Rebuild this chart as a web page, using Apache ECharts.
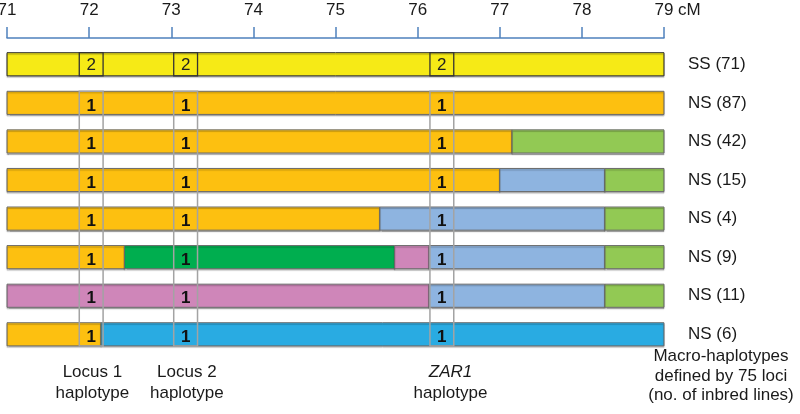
<!DOCTYPE html>
<html><head><meta charset="utf-8">
<script src="https://cdn.jsdelivr.net/npm/echarts@6/dist/echarts.min.js"></script>
<style>html,body{margin:0;padding:0;background:#fff}#c{width:800px;height:414px}</style>
</head><body><div id="c"></div>
<script>
// ---- data ----
const xTicks = [71, 72, 73, 74, 75, 76, 77, 78, 79];
const rowLabels = ['SS (71)', 'NS (87)', 'NS (42)', 'NS (15)', 'NS (4)', 'NS (9)', 'NS (11)', 'NS (6)'];
// segments per macro-haplotype: [start cM, end cM, haplotype block]
const segSS71 = [[71, 79, 'Y']];
const segNS87 = [[71, 79, 'O']];
const segNS42 = [[71, 77.15, 'O'], [77.15, 79, 'G']];
const segNS15 = [[71, 77.0, 'O'], [77.0, 78.28, 'L'], [78.28, 79, 'G']];
const segNS4  = [[71, 75.54, 'O'], [75.54, 78.28, 'L'], [78.28, 79, 'G']];
const segNS9  = [[71, 72.43, 'O'], [72.43, 75.72, 'D'], [75.72, 76.14, 'P'], [76.14, 78.28, 'L'], [78.28, 79, 'G']];
const segNS11 = [[71, 76.14, 'P'], [76.14, 78.28, 'L'], [78.28, 79, 'G']];
const segNS6  = [[71, 72.145, 'O'], [72.145, 79, 'B']];
const rowSegments = [segSS71, segNS87, segNS42, segNS15, segNS4, segNS9, segNS11, segNS6];
const locusNames = ['Locus 1', 'Locus 2', 'ZAR1'];
const locusStart = [71.88, 73.03, 76.15];
const locusEnd   = [72.17, 73.32, 76.44];
const locusLabelAt = [72.04, 73.19, 76.40];
const locusAlleles = [[2, 2, 2], [1, 1, 1], [1, 1, 1], [1, 1, 1], [1, 1, 1], [1, 1, 1], [1, 1, 1], [1, 1, 1]];

// ---- styles ----
const FONT = '"Liberation Sans", Arial, sans-serif';
const palette = { Y: '#F6EA16', O: '#FDC010', G: '#92C954', L: '#8EB4E0', D: '#00AE4F', P: '#CF86B9', B: '#29ABE2' };
const BAR = 0.6;

const segs = [];
rowSegments.forEach((arr, r) => arr.forEach(s => segs.push({ value: [s[0], s[1], r], key: s[2] })));

const chart = echarts.init(document.getElementById('c'), null, { renderer: 'canvas' });
chart.setOption({
  animation: false,
  grid: { left: 7, right: 136, top: 45, height: 308.6, outerBoundsMode: 'none', containLabel: false },
  xAxis: {
    type: 'value', min: 71, max: 79, interval: 1, position: 'top', offset: 7,
    axisLine: { show: true, lineStyle: { color: '#4F81BD', width: 1.5 } },
    axisTick: { show: true, length: 11, lineStyle: { color: '#4F81BD', width: 1.5 } },
    axisLabel: { margin: 19, fontSize: 17, color: '#1a1a1a', fontFamily: FONT,
      formatter: v => xTicks.includes(v) ? String(v) : '' },
    splitLine: { show: false }
  },
  yAxis: {
    type: 'category', data: rowLabels, inverse: true, position: 'right',
    axisLine: { show: false }, axisTick: { show: false }, splitLine: { show: false },
    axisLabel: { margin: 24, fontSize: 17, color: '#1a1a1a', fontFamily: FONT, align: 'left' }
  },
  series: [
    {
      type: 'custom', data: segs.map(s => s.value), encode: { x: [0, 1], y: 2 },
      renderItem(params, api) {
        const seg = segs[params.dataIndex];
        const r = seg.value[2];
        const a = api.coord([api.value(0), r]);
        const b = api.coord([api.value(1), r]);
        const h = api.size([0, 1])[1] * BAR;
        return {
          type: 'rect', z2: 1,
          shape: { x: a[0], y: a[1] - h / 2, width: b[0] - a[0], height: h },
          style: { fill: palette[seg.key], stroke: r === 0 ? '#2a2a2a' : '#6a6a6a', lineWidth: 1,
            shadowColor: 'rgba(0,0,0,0.25)', shadowBlur: 1, shadowOffsetY: 1.5 }
        };
      }
    },
    {
      type: 'custom', z: 3, data: locusStart.map((s, i) => [s, locusEnd[i], i]), encode: { x: [0, 1] },
      renderItem(params, api) {
        const i = params.dataIndex;
        const x0 = api.coord([api.value(0), 0])[0];
        const x1 = api.coord([api.value(1), 0])[0];
        const band = api.size([0, 1])[1];
        const h = band * BAR;
        const children = [];
        // SS row box
        const c0 = api.coord([api.value(0), 0])[1];
        children.push({ type: 'rect', shape: { x: x0, y: c0 - h / 2, width: x1 - x0, height: h },
          style: { fill: 'none', stroke: '#333', lineWidth: 1.3 } });
        children.push({ type: 'text', style: { text: String(locusAlleles[0][i]), x: (x0 + x1) / 2, y: c0 + 1,
          align: 'center', verticalAlign: 'middle', fontSize: 17, fontFamily: FONT, fill: '#222' } });
        // tall grey box across NS rows
        const top = api.coord([api.value(0), 1])[1] - h / 2;
        const bot = api.coord([api.value(0), rowLabels.length - 1])[1] + h / 2;
        children.push({ type: 'rect', shape: { x: x0, y: top, width: x1 - x0, height: bot - top },
          style: { fill: 'none', stroke: '#a3a3a3', lineWidth: 1.5 } });
        for (let r = 1; r < rowLabels.length; r++) {
          const cy = api.coord([api.value(0), r])[1];
          children.push({ type: 'text', style: { text: String(locusAlleles[r][i]), x: (x0 + x1) / 2, y: cy + 3,
            align: 'center', verticalAlign: 'middle', fontSize: 17, fontWeight: 'bold', fontFamily: FONT, fill: '#111' } });
        }
        // label below
        const lx = api.coord([locusLabelAt[i], 0])[0];
        const isZar = locusNames[i] === 'ZAR1';
        children.push({ type: 'text', style: {
          text: isZar ? '{i|' + locusNames[i] + '}\n{n|haplotype}' : locusNames[i] + '\nhaplotype',
          x: lx, y: bot + 16, align: 'center', verticalAlign: 'top', fontSize: 17, lineHeight: 21,
          fontFamily: FONT, fill: '#1a1a1a',
          rich: { i: { fontStyle: 'italic', fontSize: 17, lineHeight: 21, fontFamily: FONT, fill: '#1a1a1a' },
                  n: { fontSize: 17, lineHeight: 21, fontFamily: FONT, fill: '#1a1a1a' } } } });
        return { type: 'group', children };
      }
    }
  ]
});

const x79 = chart.convertToPixel({ xAxisIndex: 0 }, 79);
chart.setOption({
  graphic: [
    { type: 'text', style: { text: 'cM', x: x79 + 14, y: 10, verticalAlign: 'middle', align: 'left',
        fontSize: 17, fontFamily: FONT, fill: '#1a1a1a' } },
    { type: 'text', style: { text: 'Macro-haplotypes\ndefined by 75 loci\n(no. of inbred lines)',
        x: 721, y: 347, align: 'center', verticalAlign: 'top', fontSize: 17, lineHeight: 19.5,
        fontFamily: FONT, fill: '#1a1a1a' } }
  ]
});
</script>
</body></html>
